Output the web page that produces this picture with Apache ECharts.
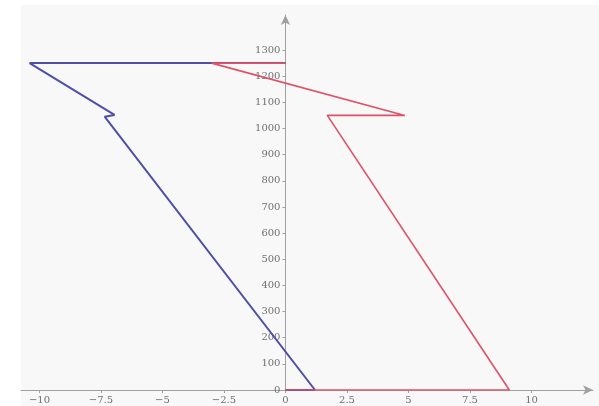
<!DOCTYPE html>
<html>
<head>
<meta charset="utf-8">
<script src="https://cdn.jsdelivr.net/npm/echarts@6/dist/echarts.min.js"></script>
<style>html,body{margin:0;padding:0;background:#fff;}#c{width:599px;height:406px;}</style>
</head>
<body>
<div id="c"></div>
<script>
var xTicks = [-10, -7.5, -5, -2.5, 0, 2.5, 5, 7.5, 10];
var yTicks = [0, 100, 200, 300, 400, 500, 600, 700, 800, 900, 1000, 1100, 1200, 1300];
var blueX = [0, -10.4, -6.95, -7.35, 1.2, 0];
var blueY = [1250, 1250, 1052, 1045, 0, 0];
var redX = [0, -3.0, 4.85, 1.7, 9.1, 0];
var redY = [1250, 1250, 1050, 1050, 0, 0];

function pairs(xs, ys) { return xs.map(function (x, i) { return [x, ys[i]]; }); }

var GL = 21, GR = 6, XMIN = -10.75, XMAX = 12.5;
var W = 599 - GL - GR;
var zeroOffset = -((0 - XMIN) / (XMAX - XMIN) * W);

var chart = echarts.init(document.getElementById('c'));
var font = 'DejaVu Serif';
chart.setOption({
  animation: false,
  backgroundColor: '#ffffff',
  graphic: [{ type: 'rect', z: -10, shape: { x: 21, y: 5, width: 578, height: 401 }, style: { fill: '#f7f8f7' } }],
  grid: { left: GL, right: GR, top: 15, bottom: 16, containLabel: false, outerBoundsMode: 'none' },
  xAxis: {
    type: 'value', min: XMIN, max: XMAX,
    splitLine: { show: false },
    axisLine: { onZero: true, lineStyle: { color: '#a0a0a0', width: 1 }, symbol: ['none', 'arrow'], symbolSize: [7, 10] },
    axisTick: { show: true, length: 3, lineStyle: { color: '#a0a0a0' }, customValues: xTicks },
    axisLabel: { customValues: xTicks, color: '#707070', fontFamily: font, fontSize: 10, margin: 5,
      formatter: function (v) { return v < 0 ? '\u2212' + (-v) : String(v); } }
  },
  yAxis: {
    type: 'value', min: 0, max: 1434, offset: zeroOffset,
    splitLine: { show: false },
    axisLine: { onZero: false, lineStyle: { color: '#a0a0a0', width: 1 }, symbol: ['none', 'arrow'], symbolSize: [7, 10] },
    axisTick: { show: true, length: 3, lineStyle: { color: '#a0a0a0' }, customValues: yTicks },
    axisLabel: { customValues: yTicks, color: '#707070', fontFamily: font, fontSize: 10, margin: 5,
      formatter: function (v) { return String(v); } }
  },
  series: [
    { type: 'line', data: pairs(blueX, blueY), showSymbol: false, symbol: 'none',
      lineStyle: { color: '#4f4fa8', width: 2 }, z: 2 },
    { type: 'line', data: pairs(redX, redY), showSymbol: false, symbol: 'none',
      lineStyle: { color: '#e05068', width: 1.6 }, z: 3 }
  ]
});
</script>
</body>
</html>
